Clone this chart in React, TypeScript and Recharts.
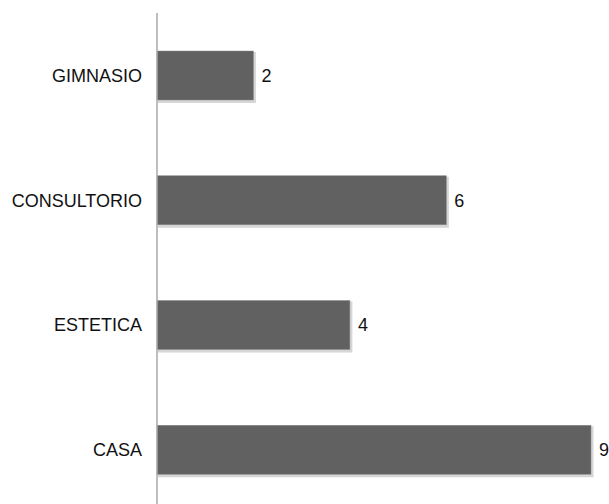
import React from "react";
import { BarChart, Bar, XAxis, YAxis, LabelList } from "recharts";

const categories = ["GIMNASIO", "CONSULTORIO", "ESTETICA", "CASA"];
const values = [2, 6, 4, 9];

const data = categories.map((name, i) => ({ name, value: values[i] }));

const FONT = "'Liberation Sans', Arial, sans-serif";

const ShadowBar = (props: any) => {
  const { x, y, width, height } = props;
  if (width == null || height == null) return null;
  return (
    <g>
      <rect x={x + 1} y={y + 1} width={width + 1.5} height={height + 2} fill="#d6d6d6" />
      <rect x={x} y={y} width={width} height={height} fill="#616161" stroke="#8a8a8a" strokeWidth={0.5} />
    </g>
  );
};

export default function App() {
  return (
    <div style={{ position: "fixed", left: 0, top: 0, width: 609, height: 504, overflow: "hidden", background: "#fff" }}>
      <BarChart
        width={609}
        height={512}
        data={data}
        layout="vertical"
        margin={{ top: 13, right: 18, bottom: 0, left: 0 }}
        barSize={49}
      >
        <XAxis type="number" domain={[0, 9]} hide />
        <YAxis
          type="category"
          dataKey="name"
          width={157}
          axisLine={{ stroke: "#a8a8a8", strokeWidth: 1.5 }}
          tickLine={false}
          tickMargin={9}
          tick={{ fill: "#111", fontSize: 18, fontFamily: FONT }}
        />
        <Bar dataKey="value" isAnimationActive={false} shape={<ShadowBar />}>
          <LabelList
            dataKey="value"
            position="right"
            offset={8}
            style={{ fill: "#111", fontSize: 18, fontFamily: FONT }}
          />
        </Bar>
      </BarChart>
    </div>
  );
}
